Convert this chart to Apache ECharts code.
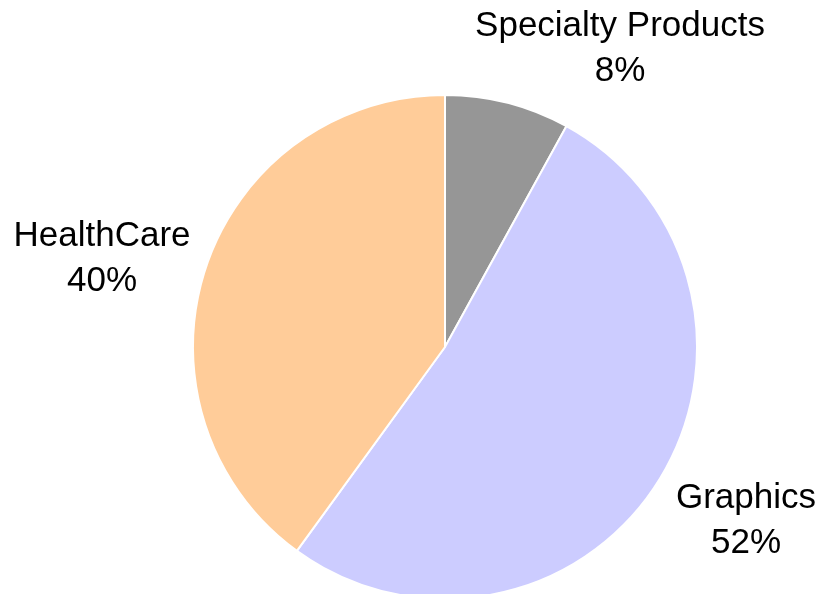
<!DOCTYPE html>
<html>
<head>
<meta charset="utf-8">
<script src="https://cdn.jsdelivr.net/npm/echarts@6/dist/echarts.min.js"></script>
<style>
  html, body { margin: 0; padding: 0; background: #ffffff; }
  #chart { width: 824px; height: 594px; }
</style>
</head>
<body>
<div id="chart"></div>
<script>
// slices, clockwise from 12 o'clock
const categories = ["Specialty Products", "Graphics", "HealthCare"];
const values = [8, 52, 40];
const colors = ["#969696", "#CCCCFF", "#FFCC99"];

// where each label block sits (centre of the two-line text)
const labelPos = [
  [620, 49],
  [746, 521],
  [102, 259],
];

const chart = echarts.init(document.getElementById("chart"));

const option = {
  backgroundColor: "#ffffff",
  animation: false,
  series: [
    {
      type: "pie",
      center: [445, 347],
      radius: 252,
      startAngle: 90,
      clockwise: true,
      data: categories.map((name, i) => ({
        name: name,
        value: values[i],
        itemStyle: { color: colors[i] },
      })),
      itemStyle: {
        borderColor: "#ffffff",
        borderWidth: 2,
      },
      label: {
        show: true,
        position: "outside",
        alignTo: "none",
        overflow: "none",
        formatter: "{b}\n{d}%",
        color: "#000000",
        fontFamily: "Liberation Sans, Arial, sans-serif",
        fontSize: 35,
        lineHeight: 45,
        align: "center",
      },
      labelLine: { show: false },
      labelLayout: function (params) {
        const p = labelPos[params.dataIndex];
        return {
          x: p[0],
          y: p[1],
          align: "center",
          verticalAlign: "middle",
        };
      },
      emphasis: { disabled: true },
    },
  ],
};

chart.setOption(option);
</script>
</body>
</html>
